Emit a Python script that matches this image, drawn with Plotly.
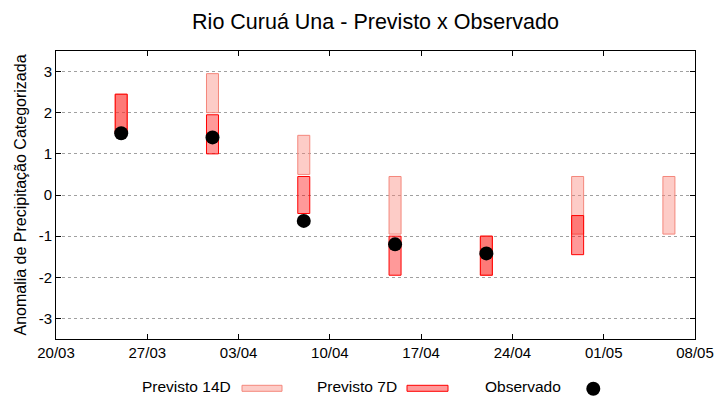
import plotly.graph_objects as go

# ---- data ----
dates = ["2024-03-25", "2024-04-01", "2024-04-08", "2024-04-15",
         "2024-04-22", "2024-04-29", "2024-05-06"]
p14_low = [1.5, 2.0, 0.5, -0.95, -1.95, -0.95, -0.95]
p14_high = [2.45, 2.95, 1.45, 0.45, -1.0, 0.45, 0.45]
p7_low = [1.5, 1.0, -0.45, -1.95, -1.95, -1.45, None]
p7_high = [2.45, 1.95, 0.45, -1.0, -1.0, -0.5, None]
obs_dates = ["2024-03-25", "2024-04-01", "2024-04-08", "2024-04-15", "2024-04-22"]
obs_vals = [1.5, 1.4, -0.63, -1.2, -1.42]
xtick_dates = ["2024-03-20", "2024-03-27", "2024-04-03", "2024-04-10",
               "2024-04-17", "2024-04-24", "2024-05-01", "2024-05-08"]
xtick_labels = ["20/03", "27/03", "03/04", "10/04", "17/04", "24/04", "01/05", "08/05"]
ytick_vals = [-3, -2, -1, 0, 1, 2, 3]
ytick_labels = ["-3", "-2", "-1", "0", "1", "2", "3"]

FONT = "Liberation Sans"
W, H = 720, 400
L, R, T, B = 56, 25, 51, 61
PW, PH = W - L - R, H - T - B
DAY_MS = 86400000
bar_w = 0.92 * DAY_MS

C14_FILL = "rgba(250,128,114,0.4)"
C14_LINE = "#F4877C"
C7_FILL = "rgba(255,0,0,0.4)"
C7_LINE = "#FF0000"

fig = go.Figure()

fig.add_trace(go.Bar(
    x=dates, base=p14_low,
    y=[h - l for h, l in zip(p14_high, p14_low)],
    width=bar_w, marker=dict(color=C14_FILL, line=dict(color=C14_LINE, width=1)),
    name="Previsto 14D", showlegend=False))

d7 = [d for d, v in zip(dates, p7_low) if v is not None]
l7 = [v for v in p7_low if v is not None]
h7 = [v for v in p7_high if v is not None]
fig.add_trace(go.Bar(
    x=d7, base=l7, y=[h - l for h, l in zip(h7, l7)],
    width=bar_w, marker=dict(color=C7_FILL, line=dict(color=C7_LINE, width=1)),
    name="Previsto 7D", showlegend=False))

fig.add_trace(go.Scatter(
    x=obs_dates, y=obs_vals, mode="markers",
    marker=dict(color="black", size=14), name="Observado", showlegend=False))


def px(xp):
    return (xp - L) / PW


def py(yp):
    return (H - B - yp) / PH


# manual legend (text to the left of the sample, gnuplot style)
ann = []
shapes = []
leg_y = 386.5
items = [("Previsto 14D", 233), ("Previsto 7D", 399), ("Observado", 563)]
for txt, tx in items:
    ann.append(dict(text=txt, x=px(tx), y=py(leg_y), xref="paper", yref="paper",
                    xanchor="right", yanchor="middle", showarrow=False,
                    font=dict(family=FONT, size=15.5, color="black")))
shapes.append(dict(type="rect", xref="paper", yref="paper",
                   x0=px(242), x1=px(282), y0=py(391.3), y1=py(385.3),
                   fillcolor=C14_FILL, line=dict(color=C14_LINE, width=1)))
shapes.append(dict(type="rect", xref="paper", yref="paper",
                   x0=px(407), x1=px(448), y0=py(391.3), y1=py(385.3),
                   fillcolor=C7_FILL, line=dict(color=C7_LINE, width=1)))
shapes.append(dict(type="circle", xref="paper", yref="paper",
                   x0=px(586.3), x1=px(600.3), y0=py(395.7), y1=py(381.7),
                   fillcolor="black", line=dict(color="black", width=0)))

fig.update_layout(
    width=W, height=H,
    margin=dict(l=L, r=R, t=T, b=B, autoexpand=False),
    paper_bgcolor="white", plot_bgcolor="white",
    barmode="overlay",
    font=dict(family=FONT, color="black"),
    title=dict(text="Rio Curuá Una - Previsto x Observado", x=(L + PW / 2) / W,
               xanchor="center", y=1 - 21 / H, yanchor="middle", yref="container",
               font=dict(family=FONT, size=21.5, color="black")),
    annotations=ann, shapes=shapes,
    xaxis=dict(type="date", range=["2024-03-20", "2024-05-08"],
               tickvals=xtick_dates, ticktext=xtick_labels, automargin=False,
               ticks="inside", ticklen=5, tickcolor="black",
               showline=True, linecolor="black", linewidth=1, mirror="allticks",
               showgrid=False, zeroline=False,
               tickfont=dict(family=FONT, size=15, color="black")),
    yaxis=dict(range=[-3.5, 3.5], tickvals=ytick_vals, ticktext=ytick_labels,
               automargin=False,
               ticks="inside", ticklen=5, tickcolor="black",
               showline=True, linecolor="black", linewidth=1, mirror="allticks",
               showgrid=True, gridcolor="#a0a0a0", griddash="dot", gridwidth=1,
               zeroline=False,
               tickfont=dict(family=FONT, size=15, color="black"),
               title=dict(text="Anomalia de Precipitação Categorizada", standoff=8,
                          font=dict(family=FONT, size=16, color="black"))),
)

fig.write_html("out.html", config={"displayModeBar": False},
               post_script="document.body.style.margin='0px';document.body.style.padding='0px';")
